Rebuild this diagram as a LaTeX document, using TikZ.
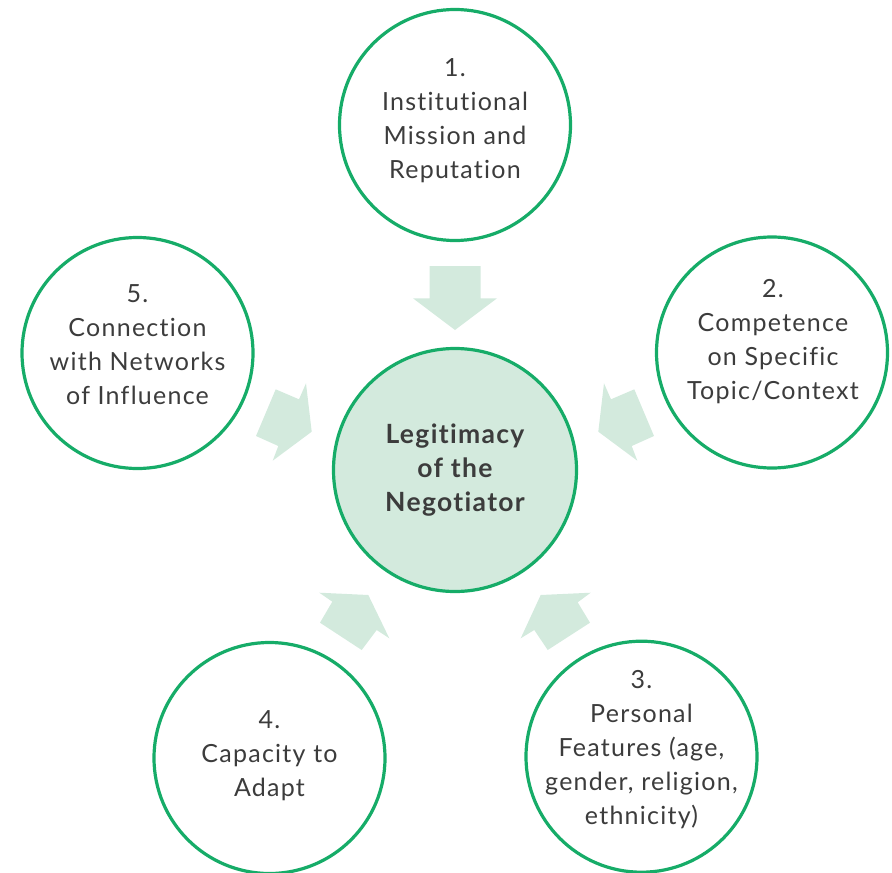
\documentclass[tikz,border=0pt]{standalone}
\usepackage{fontspec}
\setmainfont{Lato}[Ligatures=NoCommon]
\newfontfamily\spacedfont{Lato}[Ligatures=NoCommon,LetterSpace=5]
\definecolor{ringgreen}{RGB}{22,172,104}
\definecolor{palegreen}{RGB}{211,234,221}
\definecolor{txtgray}{RGB}{60,60,60}
\begin{document}
\begin{tikzpicture}[x=1pt,y=-1pt,
  ring/.style={circle,draw=ringgreen,line width=3.2pt,inner sep=0pt},
  outerring/.style={ring,fill=white,minimum size=231pt},
  innerring/.style={ring,fill=palegreen,minimum size=243pt},
  label/.style={align=center,text=txtgray,font=\spacedfont\fontsize{25}{34}\selectfont,inner sep=0pt},
  mainlabel/.style={align=center,text=txtgray,font=\spacedfont\fontsize{26.5}{34}\selectfont\bfseries,inner sep=0pt},
  blockarrow/.style={fill=palegreen,draw=none}]
\useasboundingbox (0,0) rectangle (892,873);
% circles
\node[innerring] (c0) at (455,470) {};
\node[outerring] (c1) at (455,125) {};
\node[outerring] (c2) at (772,352.5) {};
\node[outerring] (c3) at (641.5,756.7) {};
\node[outerring] (c4) at (269.5,758) {};
\node[outerring] (c5) at (137.5,353) {};
% block arrows
\fill[blockarrow] (429.5,266) -- (480.5,266) -- (480.5,298.3) -- (497,298.3) -- (455,330) -- (413,298.3) -- (429.5,298.3) -- cycle;
\fill[blockarrow] (634.3,389.3) -- (654,436) -- (631.7,446) -- (637.3,460.7) -- (598.3,431.7) -- (604,383.3) -- (611,399.3) -- cycle;
\fill[blockarrow] (275.7,389.3) -- (256,436) -- (278.3,446) -- (272.7,460.7) -- (311.7,431.7) -- (306,383.3) -- (299,399.3) -- cycle;
\fill[blockarrow] (320,622.7) -- (332.3,601.7) -- (319.3,592.7) -- (368.3,595) -- (389.3,638.3) -- (376.7,630) -- (361.7,650) -- cycle;
\fill[blockarrow] (590,622.7) -- (577.7,602.3) -- (590.7,592.7) -- (540.7,595) -- (520.7,638.3) -- (534.3,630) -- (547.7,650) -- cycle;
% texts
\node[mainlabel] (t0) at (455,470.5) {Legitimacy\\of the\\Negotiator};
\node[label] (t1) at (455,121) {1.\\Institutional\\Mission and\\Reputation};
\node[label] (t2) at (773,341.5) {2.\\Competence\\on Specific\\Topic/Context};
\node[label] (t3) at (641.5,749.5) {3.\\Personal\\Features (age,\\gender, religion,\\ethnicity)};
\node[label] (t4) at (269.5,756) {4.\\Capacity to\\Adapt};
\node[label] (t5) at (137.5,345) {5.\\Connection\\with Networks\\of Influence};
\end{tikzpicture}
\end{document}
